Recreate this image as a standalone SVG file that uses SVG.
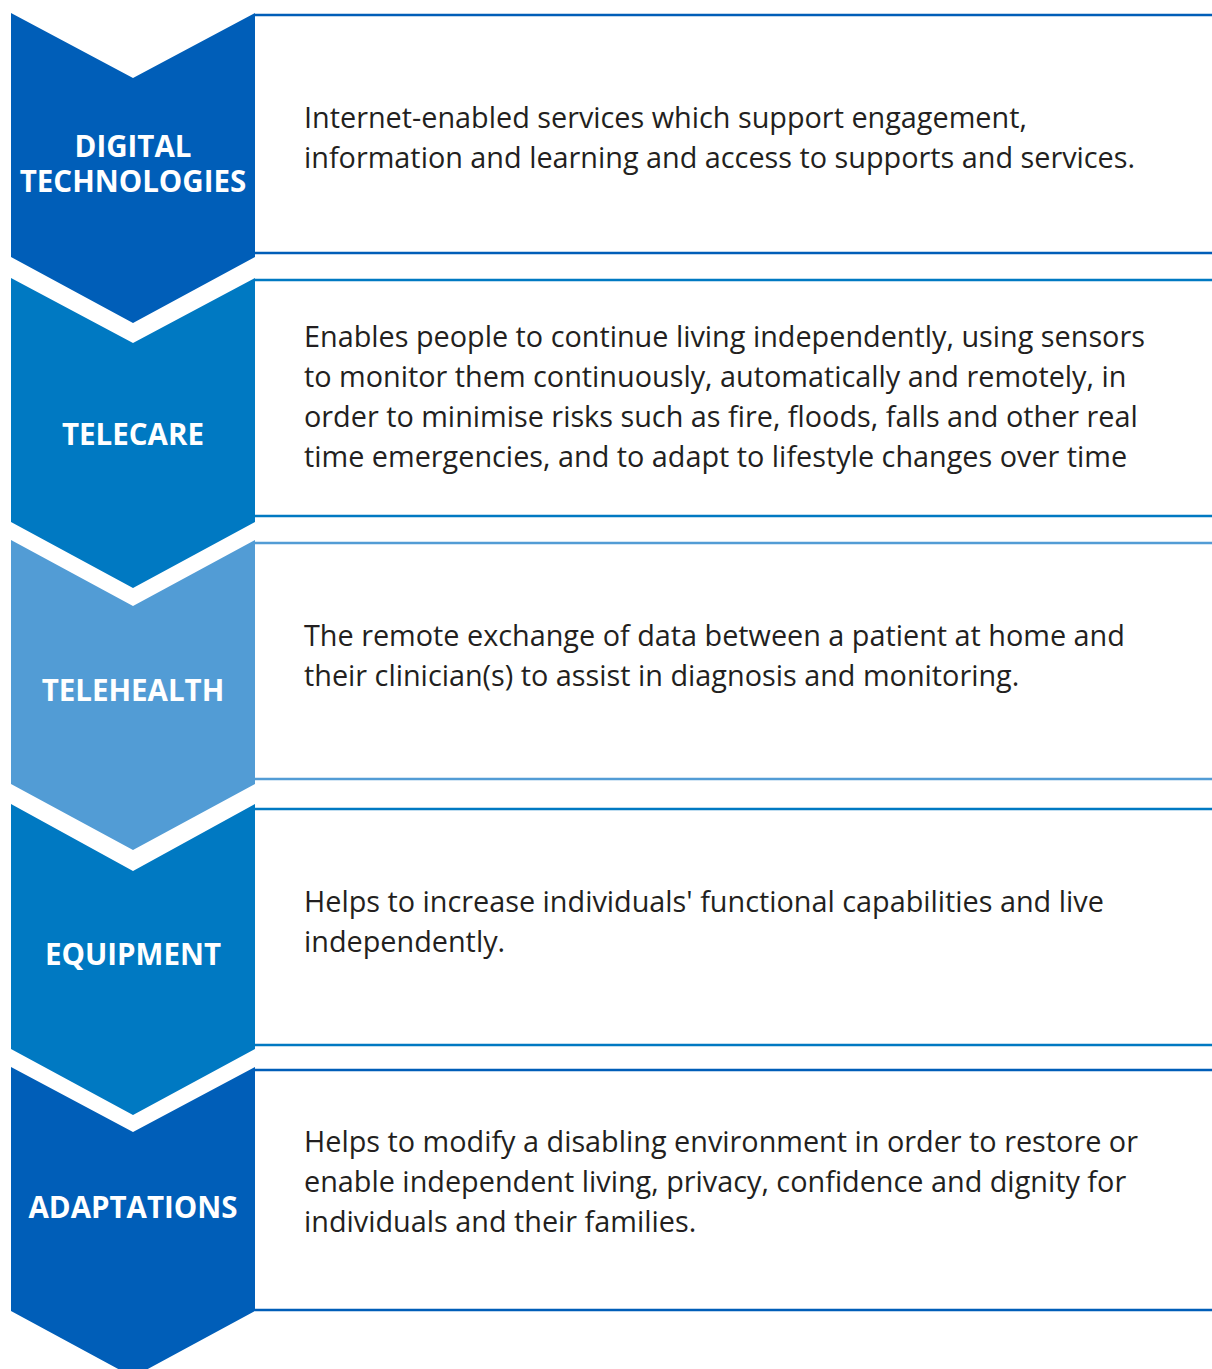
<svg xmlns="http://www.w3.org/2000/svg" width="1212" height="1369" viewBox="0 0 1212 1369">
  <style>
    .dark { fill: #005eb8; }
    .mid { fill: #0079c2; }
    .light { fill: #529cd5; }
    .rule-dark { stroke: #005eb8; }
    .rule-mid { stroke: #0079c2; }
    .rule-light { stroke: #529cd5; }
    .rule { stroke-width: 2.6; fill: none; }
    .label { font-family: "Open Sans", "Noto Sans", "Liberation Sans", sans-serif; font-weight: 700; font-size: 29.5px; fill: #ffffff; text-anchor: middle; }
    .desc { font-family: "Open Sans", "Noto Sans", "Liberation Sans", sans-serif; font-size: 28.8px; fill: #231f20; }
  </style>
  <rect width="1212" height="1369" fill="#ffffff"/>

  <!-- panel rules (top and bottom of each description box) -->
  <g id="connectors">
    <line class="rule rule-dark" x1="255" y1="15" x2="1212" y2="15"/>
    <line class="rule rule-dark" x1="255" y1="253" x2="1212" y2="253"/>
    <line class="rule rule-mid" x1="255" y1="280" x2="1212" y2="280"/>
    <line class="rule rule-mid" x1="255" y1="516" x2="1212" y2="516"/>
    <line class="rule rule-light" x1="255" y1="543" x2="1212" y2="543"/>
    <line class="rule rule-light" x1="255" y1="779" x2="1212" y2="779"/>
    <line class="rule rule-mid" x1="255" y1="809" x2="1212" y2="809"/>
    <line class="rule rule-mid" x1="255" y1="1045" x2="1212" y2="1045"/>
    <line class="rule rule-dark" x1="255" y1="1070" x2="1212" y2="1070"/>
    <line class="rule rule-dark" x1="255" y1="1310" x2="1212" y2="1310"/>
  </g>

  <g id="digital-technologies">
    <polygon class="dark" points="11,13 133,78 255,13 255,257 133,323 11,257"/>
    <text class="label"><tspan x="133" y="157">DIGITAL</tspan><tspan x="133" y="192">TECHNOLOGIES</tspan></text>
    <text class="desc" x="304" y="128">Internet-enabled services which support engagement,</text>
    <text class="desc" x="304" y="168">information and learning and access to supports and services.</text>
  </g>

  <g id="telecare">
    <polygon class="mid" points="11,278 133,343 255,278 255,522 133,588 11,522"/>
    <text class="label" x="133" y="445">TELECARE</text>
    <text class="desc" x="304" y="347">Enables people to continue living independently, using sensors</text>
    <text class="desc" x="304" y="387">to monitor them continuously, automatically and remotely, in</text>
    <text class="desc" x="304" y="427">order to minimise risks such as fire, floods, falls and other real</text>
    <text class="desc" x="304" y="467">time emergencies, and to adapt to lifestyle changes over time</text>
  </g>

  <g id="telehealth">
    <polygon class="light" points="11,540 133,606 255,540 255,784 133,850 11,784"/>
    <text class="label" x="133" y="701">TELEHEALTH</text>
    <text class="desc" x="304" y="646">The remote exchange of data between a patient at home and</text>
    <text class="desc" x="304" y="686">their clinician(s) to assist in diagnosis and monitoring.</text>
  </g>

  <g id="equipment">
    <polygon class="mid" points="11,804 133,871 255,804 255,1049 133,1115 11,1049"/>
    <text class="label" x="133" y="965">EQUIPMENT</text>
    <text class="desc" x="304" y="912">Helps to increase individuals' functional capabilities and live</text>
    <text class="desc" x="304" y="952">independently.</text>
  </g>

  <g id="adaptations">
    <polygon class="dark" points="11,1067 133,1132 255,1067 255,1311 133,1377 11,1311"/>
    <text class="label" x="133" y="1218">ADAPTATIONS</text>
    <text class="desc" x="304" y="1152">Helps to modify a disabling environment in order to restore or</text>
    <text class="desc" x="304" y="1192">enable independent living, privacy, confidence and dignity for</text>
    <text class="desc" x="304" y="1232">individuals and their families.</text>
  </g>
</svg>
